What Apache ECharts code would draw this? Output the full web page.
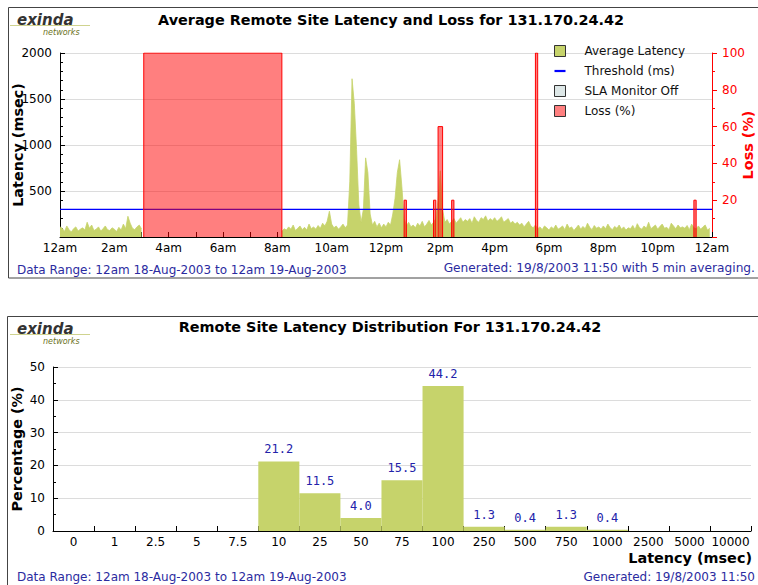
<!DOCTYPE html>
<html><head><meta charset="utf-8">
<script src="https://cdn.jsdelivr.net/npm/echarts@6/dist/echarts.min.js"></script>
<style>html,body{margin:0;padding:0;background:#fff;}#c{width:758px;height:585px;}</style>
</head><body><div id="c"></div>
<script>
// ---------- DATA ----------
const hourLabels = ['12am','2am','4am','6am','8am','10am','12pm','2pm','4pm','6pm','8pm','10pm','12am'];
// Average latency (ms), one value per 5-minute bin, 12 per hour; null = SLA monitor off
const latency = [
 /*00*/ 110,95,60,120,80,55,90,110,65,85,100,75,
 /*01*/ 160,95,130,70,85,110,65,90,120,80,70,100,
 /*02*/ 85,60,105,75,140,90,225,150,95,80,110,130,
 /*03*/ 90,null,null,null,null,null,null,null,null,null,null,null,
 /*04*/ null,null,null,null,null,null,null,null,null,null,null,null,
 /*05*/ null,null,null,null,null,null,null,null,null,null,null,null,
 /*06*/ null,null,null,null,null,null,null,null,null,null,null,null,
 /*07*/ null,null,null,null,null,null,null,null,null,null,null,null,
 /*08*/ null,null,60,90,75,110,85,130,70,95,120,80,
 /*09*/ 105,75,140,90,110,85,125,95,150,120,170,280,
 /*10*/ 140,100,120,85,110,140,100,130,600,1720,1450,950,
 /*11*/ 350,160,300,860,700,250,130,170,110,150,100,140,
 /*12*/ 110,160,130,250,420,700,840,550,200,120,160,110,
 /*13*/ 130,100,150,120,170,110,140,180,130,160,200,400,
 /*14*/ 720,300,160,190,140,170,200,150,180,210,160,190,
 /*15*/ 170,200,150,220,180,160,210,190,230,170,200,180,
 /*16*/ 210,170,190,220,160,180,200,150,170,140,160,130,
 /*17*/ 150,110,140,170,120,100,130,90,110,80,120,100,
 /*18*/ 75,110,90,130,85,100,120,80,140,95,110,70,
 /*19*/ 100,130,85,115,90,150,105,80,125,95,110,85,
 /*20*/ 120,90,140,100,80,115,95,130,85,110,75,100,
 /*21*/ 90,125,80,145,100,85,120,95,160,90,110,130,
 /*22*/ 85,115,140,95,105,80,150,120,90,130,100,110,
 /*23*/ 95,125,80,140,100,90,120,85,110,130,75,95
];
const thresholdMs = 300;
// Loss events: [start, end, loss %]
const lossEvents = [
 ['03:05','08:10',100],
 ['12:40','12:45',20],
 ['13:45','13:50',20],
 ['13:55','14:05',60],
 ['14:25','14:30',20],
 ['17:30','17:35',100],
 ['23:20','23:25',20]
];
// Distribution chart
const latencyBins = ['0','1','2.5','5','7.5','10','25','50','75','100','250','500','750','1000','2500','5000','10000'];
const latencyPct = [0,0,0,0,0,21.2,11.5,4.0,15.5,44.2,1.3,0.4,1.3,0.4,0,0,0];

// ---------- BUILD ----------
const toH = s => { const p = s.split(':'); return (+p[0]) + (+p[1]) / 60; };
const latencyData = latency.map((v, i) => [i / 12, v]);
const lossData = [];
lossEvents.forEach(e => {
  const s = toH(e[0]), t = toH(e[1]);
  lossData.push([s, 0], [s, e[2]], [t, e[2]], [t, 0], [t, null]);
});

const F = 'DejaVu Sans';
const GREEN = '#c6d36b';
const NAVY = '#2b2ba0';
const BOLD = 'bold 14.4px "DejaVu Sans"';

const chart = echarts.init(document.getElementById('c'), null, {renderer: 'svg'});

function logo(y) {
  return [
    {type:'text', left:17, top:y, style:{text:'exinda', font:'italic bold 15px "DejaVu Sans"', fill:'#333'}},
    {type:'line', shape:{x1:10, y1:y+13.5, x2:90, y2:y+13.5}, style:{stroke:'#cfd38f', lineWidth:1}},
    {type:'text', left:43, top:y+16, style:{text:'networks', font:'italic 8px "DejaVu Sans"', fill:'#6d7425'}}
  ];
}

chart.setOption({
  animation: false,
  textStyle: {fontFamily: F},
  grid: [
    {left: 60, right: 46, top: 53, height: 184, outerBoundsMode: 'none', containLabel: false},
    {left: 53, right: 7, top: 367, height: 164, outerBoundsMode: 'none', containLabel: false}
  ],
  legend: {
    orient: 'vertical', left: 549, top: 40, itemWidth: 11, itemHeight: 11, itemGap: 8,
    selectedMode: false, symbolKeepAspect: true,
    textStyle: {fontFamily: F, fontSize: 12, color: '#111', padding: [0, 0, 0, 14]},
    data: [
      {name: 'Average Latency', icon: 'rect', itemStyle: {color: GREEN, borderColor: '#333', borderWidth: 1}},
      {name: 'Threshold (ms)', icon: 'path://M0,0h10v2h-10z', itemStyle: {color: '#0000ff', borderWidth: 0}},
      {name: 'SLA Monitor Off', icon: 'rect', itemStyle: {color: '#dde7e7', borderColor: '#333', borderWidth: 1}},
      {name: 'Loss (%)', icon: 'rect', itemStyle: {color: '#ff8080', borderColor: '#333', borderWidth: 1}}
    ]
  },
  xAxis: [
    {
      type: 'value', gridIndex: 0, min: 0, max: 24, interval: 1,
      axisLine: {show: true, lineStyle: {color: '#000'}},
      axisTick: {show: true, inside: true, length: 5, lineStyle: {color: '#000'}},
      axisLabel: {show: true, margin: 5, fontSize: 12, color: '#000', fontFamily: F,
        formatter: v => (v % 2 === 0 ? hourLabels[v / 2] : '')},
      splitLine: {show: false}
    },
    {
      type: 'category', gridIndex: 1, data: latencyBins,
      axisLine: {show: true, lineStyle: {color: '#000'}},
      axisTick: {show: true, inside: true, length: 5, lineStyle: {color: '#000'}},
      axisLabel: {show: true, margin: 5, fontSize: 12, color: '#000', fontFamily: F, interval: 0},
      splitLine: {show: false}
    }
  ],
  yAxis: [
    {
      type: 'value', gridIndex: 0, min: 0, max: 2000, interval: 500,
      name: 'Latency (msec)', nameLocation: 'middle', nameGap: 35, nameMoveOverlap: false,
      nameTextStyle: {fontFamily: F, fontWeight: 'bold', fontSize: 14.4, color: '#000'},
      axisLine: {show: true, lineStyle: {color: '#000'}},
      axisTick: {show: true, inside: true, length: 5, lineStyle: {color: '#000'}},
      minorTick: {show: true, splitNumber: 5, length: 3, lineStyle: {color: '#000'}},
      axisLabel: {show: true, margin: 8, fontSize: 12, color: '#000', fontFamily: F,
        formatter: v => (v === 0 ? '' : String(v))},
      splitLine: {show: true, lineStyle: {color: '#dcdcdc'}}
    },
    {
      type: 'value', gridIndex: 0, position: 'right', min: 0, max: 100, interval: 20,
      name: 'Loss (%)', nameLocation: 'middle', nameGap: 29, nameRotate: 90, nameMoveOverlap: false,
      nameTextStyle: {fontFamily: F, fontWeight: 'bold', fontSize: 14.4, color: '#ff0000'},
      axisLine: {show: true, lineStyle: {color: '#ff0000'}},
      axisTick: {show: true, inside: false, length: 5, lineStyle: {color: '#ff0000'}},
      minorTick: {show: true, splitNumber: 2, length: 3, lineStyle: {color: '#ff0000'}},
      axisLabel: {show: true, margin: 10, fontSize: 12, color: '#ff0000', fontFamily: F,
        formatter: v => (v === 0 ? '' : String(v))},
      splitLine: {show: false}
    },
    {
      type: 'value', gridIndex: 1, min: 0, max: 50, interval: 10,
      name: 'Percentage (%)', nameLocation: 'middle', nameGap: 29, nameMoveOverlap: false,
      nameTextStyle: {fontFamily: F, fontWeight: 'bold', fontSize: 14.4, color: '#000'},
      axisLine: {show: true, lineStyle: {color: '#000'}},
      axisTick: {show: true, inside: true, length: 5, lineStyle: {color: '#000'}},
      minorTick: {show: true, splitNumber: 2, length: 3, lineStyle: {color: '#000'}},
      axisLabel: {show: true, margin: 8, fontSize: 12, color: '#000', fontFamily: F},
      splitLine: {show: true, lineStyle: {color: '#dcdcdc'}}
    }
  ],
  series: [
    {
      name: 'Average Latency', type: 'line', xAxisIndex: 0, yAxisIndex: 0, data: latencyData,
      symbol: 'none', connectNulls: false, z: 2,
      itemStyle: {color: GREEN},
      lineStyle: {color: GREEN, width: 0.8},
      areaStyle: {color: GREEN, opacity: 1}
    },
    {
      name: 'Threshold (ms)', type: 'line', xAxisIndex: 0, yAxisIndex: 0,
      data: [[0, thresholdMs], [24, thresholdMs]], symbol: 'none', z: 3,
      itemStyle: {color: '#0000ff'}, lineStyle: {color: '#0000ff', width: 1.3}
    },
    {
      name: 'SLA Monitor Off', type: 'line', xAxisIndex: 0, yAxisIndex: 0, data: [],
      itemStyle: {color: '#dde7e7'}
    },
    {
      name: 'Loss (%)', type: 'line', xAxisIndex: 0, yAxisIndex: 1, data: lossData,
      symbol: 'none', connectNulls: false, z: 4,
      itemStyle: {color: '#ff0000'},
      lineStyle: {color: '#ff0000', width: 1},
      areaStyle: {color: 'rgba(255,0,0,0.5)', opacity: 1}
    },
    {
      name: 'Distribution', type: 'bar', xAxisIndex: 1, yAxisIndex: 2, data: latencyPct,
      barCategoryGap: '0%', barGap: '0%',
      itemStyle: {color: GREEN},
      label: {show: true, position: 'top', distance: 6, fontFamily: 'DejaVu Sans Mono', fontSize: 12,
        color: '#2222aa', formatter: p => (p.value > 0 ? p.value.toFixed(1) : '')}
    }
  ],
  graphic: [
    {type:'rect', shape:{x:8.5, y:7.5, width:760, height:270.5}, style:{fill:'none', stroke:'#444', lineWidth:1}, z:-1},
    {type:'rect', shape:{x:7.5, y:316.5, width:760, height:290}, style:{fill:'none', stroke:'#444', lineWidth:1}, z:-1},
    ...logo(12),
    ...logo(321),
    {type:'text', x:391, y:20, style:{text:'Average Remote Site Latency and Loss for 131.170.24.42', font:BOLD, fill:'#000', textAlign:'center', textVerticalAlign:'middle'}},
    {type:'text', x:390, y:327, style:{text:'Remote Site Latency Distribution For 131.170.24.42', font:BOLD, fill:'#000', textAlign:'center', textVerticalAlign:'middle'}},
    {type:'text', x:17, y:270, style:{text:'Data Range: 12am 18-Aug-2003 to 12am 19-Aug-2003', font:'12px "DejaVu Sans"', fill:NAVY, textAlign:'left', textVerticalAlign:'middle'}},
    {type:'text', x:755, y:268, style:{text:'Generated: 19/8/2003 11:50 with 5 min averaging.', font:'12.2px "DejaVu Sans"', fill:NAVY, textAlign:'right', textVerticalAlign:'middle'}},
    {type:'text', x:17, y:577, style:{text:'Data Range: 12am 18-Aug-2003 to 12am 19-Aug-2003', font:'12px "DejaVu Sans"', fill:NAVY, textAlign:'left', textVerticalAlign:'middle'}},
    {type:'text', x:755, y:577, style:{text:'Generated: 19/8/2003 11:50', font:'12px "DejaVu Sans"', fill:NAVY, textAlign:'right', textVerticalAlign:'middle'}},
    {type:'text', x:752, y:558, style:{text:'Latency (msec)', font:BOLD, fill:'#000', textAlign:'right', textVerticalAlign:'middle'}}
  ]
});
</script></body></html>
